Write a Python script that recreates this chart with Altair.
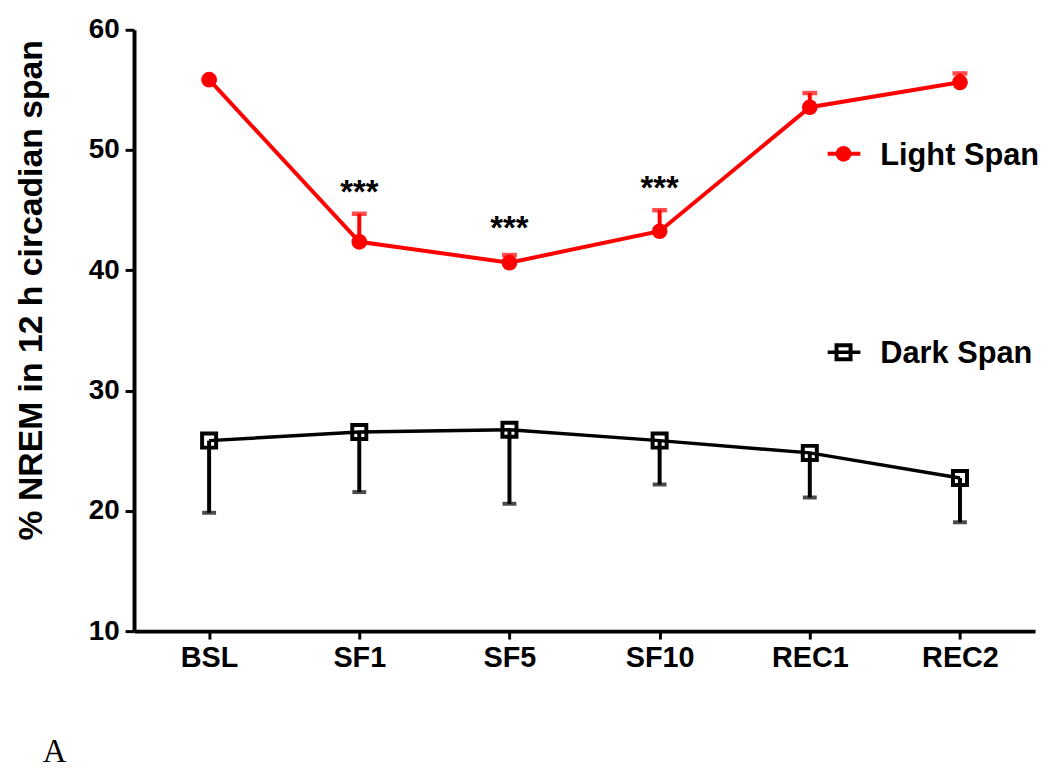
import altair as alt
import pandas as pd

# ---- data ----
categories = ["BSL", "SF1", "SF5", "SF10", "REC1", "REC2"]
light_mean = [55.85, 42.37, 40.64, 43.25, 53.56, 55.63]
light_sem = [0.0, 2.33, 0.63, 1.75, 1.18, 0.74]
dark_mean = [25.84, 26.56, 26.75, 25.84, 24.82, 22.73]
dark_sem = [6.0, 5.0, 6.16, 3.65, 3.71, 3.68]

star_cats = ["SF1", "SF5", "SF10"]
star_text = ["***", "***", "***"]
star_y = [45.6, 42.6, 45.9]

y_ticks = [10, 20, 30, 40, 50, 60]
y_title = "% NREM in 12 h circadian span"
legend_labels = ["Light Span", "Dark Span"]
panel_label = "A"

RED = "#ff0000"
BLACK = "#000000"
FONT = "Liberation Sans"

light_df = pd.DataFrame({
    "cat": categories,
    "mean": light_mean,
    "upper": [m + s for m, s in zip(light_mean, light_sem)],
})
dark_df = pd.DataFrame({
    "cat": categories,
    "mean": dark_mean,
    "lower": [m - s for m, s in zip(dark_mean, dark_sem)],
})
star_df = pd.DataFrame({"cat": star_cats, "y": star_y, "t": star_text})

xscale = alt.Scale(type="point", domain=categories, padding=0.5)
yscale = alt.Scale(domain=[10, 60], nice=False, zero=False)

xaxis = alt.Axis(
    title=None, labelFont=FONT, labelFontSize=29, labelFontWeight="bold",
    labelColor=BLACK, domainColor=BLACK, domainWidth=4, tickColor=BLACK,
    tickWidth=3, tickSize=8, labelPadding=5, grid=False, labelAngle=0,
)
yaxis = alt.Axis(
    title=y_title, values=y_ticks, labelFont=FONT, labelFontSize=28,
    labelFontWeight="bold", labelColor=BLACK, domainColor=BLACK,
    domainWidth=4, tickColor=BLACK, tickWidth=3, tickSize=9, labelPadding=6,
    grid=False, titleFont=FONT, titleFontSize=34, titleFontWeight="bold",
    titleColor=BLACK, titleAngle=270, titleX=-93, titleY=262,
    titleAlign="center", titleBaseline="alphabetic",
)


def X():
    return alt.X("cat:N", sort=categories, scale=xscale, axis=xaxis)


def Y(field):
    return alt.Y(f"{field}:Q", scale=yscale, axis=yaxis)


# dark series
dark_bar = alt.Chart(dark_df).mark_rule(color=BLACK, strokeWidth=4).encode(
    x=X(), y=Y("mean"), y2="lower:Q")
dark_cap = alt.Chart(dark_df).mark_tick(color=BLACK, size=14, thickness=4).encode(
    x=X(), y=Y("lower"))
dark_line = alt.Chart(dark_df).mark_line(color=BLACK, strokeWidth=3.5).encode(
    x=X(), y=Y("mean"))
dark_pts = alt.Chart(dark_df).mark_point(
    shape="square", size=200, filled=False, color=BLACK, strokeWidth=4,
    opacity=1).encode(x=X(), y=Y("mean"))

# light series
light_bar = alt.Chart(light_df).mark_rule(color=RED, strokeWidth=4).encode(
    x=X(), y=Y("mean"), y2="upper:Q")
light_cap = alt.Chart(light_df).mark_tick(color=RED, size=15, thickness=4.5).encode(
    x=X(), y=Y("upper"))
light_line = alt.Chart(light_df).mark_line(color=RED, strokeWidth=4).encode(
    x=X(), y=Y("mean"))
light_pts = alt.Chart(light_df).mark_point(
    shape="circle", size=250, filled=True, color=RED, opacity=1).encode(
    x=X(), y=Y("mean"))

stars = alt.Chart(star_df).mark_text(
    font=FONT, fontSize=33, fontWeight="bold", color=BLACK,
    baseline="alphabetic", align="center").encode(
    x=X(), y=Y("y"), text="t:N")

# manual legend
one = pd.DataFrame({"k": [0]})
leg_light_line = alt.Chart(one).mark_rule(color=RED, strokeWidth=4).encode(
    x=alt.value(699), x2=alt.value(732), y=alt.value(125))
leg_light_pt = alt.Chart(one).mark_point(
    shape="circle", size=250, filled=True, color=RED, opacity=1).encode(
    x=alt.value(715), y=alt.value(125))
leg_light_txt = alt.Chart(pd.DataFrame({"t": [legend_labels[0]]})).mark_text(
    font=FONT, fontSize=31, fontWeight="bold", color=BLACK, align="left",
    baseline="alphabetic").encode(x=alt.value(752), y=alt.value(136), text="t:N")

leg_dark_line = alt.Chart(one).mark_rule(color=BLACK, strokeWidth=3.5).encode(
    x=alt.value(699), x2=alt.value(732), y=alt.value(325))
leg_dark_pt = alt.Chart(one).mark_point(
    shape="square", size=200, filled=False, color=BLACK, strokeWidth=4,
    opacity=1).encode(x=alt.value(715), y=alt.value(325))
leg_dark_txt = alt.Chart(pd.DataFrame({"t": [legend_labels[1]]})).mark_text(
    font=FONT, fontSize=31, fontWeight="bold", color=BLACK, align="left",
    baseline="alphabetic").encode(x=alt.value(752), y=alt.value(336), text="t:N")

panel = alt.Chart(pd.DataFrame({"t": [panel_label]})).mark_text(
    font="Liberation Serif", fontSize=33, color=BLACK, align="left",
    baseline="alphabetic").encode(x=alt.value(-92), y=alt.value(738), text="t:N")

chart = alt.layer(
    dark_bar, dark_cap, dark_line, dark_pts,
    light_bar, light_cap, light_line, light_pts,
    stars,
    leg_light_line, leg_light_pt, leg_light_txt,
    leg_dark_line, leg_dark_pt, leg_dark_txt,
    panel,
).properties(
    width=908, height=606,
    autosize=alt.AutoSizeParams(type="none"),
    padding={"left": 127, "top": 19, "right": 7, "bottom": 135},
    background="white",
).configure_view(stroke=None)

chart.save("out.html", embed_options={"renderer": "svg", "actions": False})
